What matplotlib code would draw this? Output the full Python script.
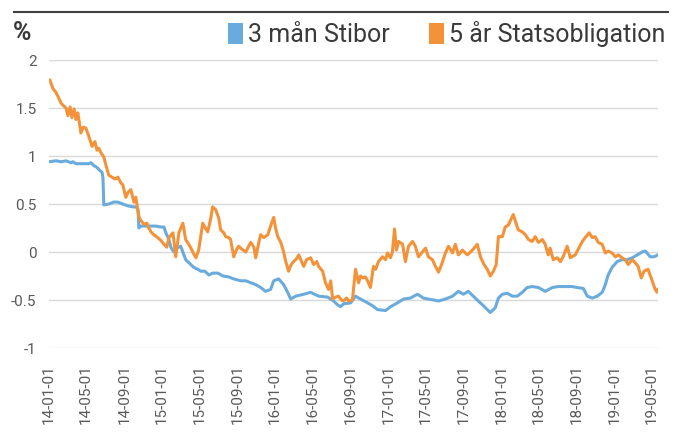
import matplotlib
matplotlib.use("Agg")
import matplotlib.pyplot as plt
import matplotlib.dates as mdates
from matplotlib.patches import Patch
from matplotlib.lines import Line2D
import pandas as pd

stibor_dates = [
    "2014-01-01", "2014-01-24", "2014-02-09", "2014-02-25", "2014-03-13", "2014-03-19", "2014-03-29",
    "2014-04-14", "2014-04-30", "2014-05-10", "2014-05-16", "2014-05-26", "2014-06-05", "2014-06-14",
    "2014-06-21", "2014-06-24", "2014-06-27", "2014-07-13", "2014-07-29", "2014-08-11", "2014-08-27",
    "2014-09-13", "2014-09-29", "2014-10-08", "2014-10-15", "2014-10-18", "2014-10-24", "2014-11-10",
    "2014-11-26", "2014-12-12", "2014-12-28", "2015-01-07", "2015-01-13", "2015-01-23", "2015-01-29",
    "2015-02-08", "2015-02-17", "2015-03-02", "2015-03-09", "2015-03-18", "2015-03-31", "2015-04-13",
    "2015-04-26", "2015-05-06", "2015-05-19", "2015-06-01", "2015-06-13", "2015-06-30", "2015-07-16",
    "2015-08-04", "2015-08-20", "2015-09-12", "2015-09-28", "2015-10-14", "2015-10-30", "2015-11-15",
    "2015-12-01", "2015-12-17", "2015-12-27", "2016-01-12", "2016-01-28", "2016-02-10", "2016-02-20",
    "2016-03-07", "2016-04-02", "2016-04-24", "2016-05-20", "2016-06-18", "2016-07-07", "2016-07-20",
    "2016-07-30", "2016-08-08", "2016-08-31", "2016-09-16", "2016-10-02", "2016-10-25", "2016-11-10",
    "2016-11-26", "2016-12-22", "2017-01-07", "2017-01-29", "2017-02-18", "2017-03-12", "2017-04-04",
    "2017-04-23", "2017-05-25", "2017-06-11", "2017-07-03", "2017-07-26", "2017-08-14", "2017-08-30",
    "2017-09-15", "2017-10-01", "2017-10-17", "2017-11-03", "2017-11-09", "2017-11-25", "2017-12-11",
    "2017-12-21", "2018-01-03", "2018-01-19", "2018-02-04", "2018-02-20", "2018-03-08", "2018-03-24",
    "2018-04-09", "2018-04-29", "2018-05-21", "2018-06-13", "2018-07-02", "2018-07-25", "2018-08-16",
    "2018-09-01", "2018-09-21", "2018-10-04", "2018-10-20", "2018-11-05", "2018-11-21", "2018-12-01",
    "2018-12-10", "2018-12-23", "2019-01-08", "2019-01-24", "2019-02-10", "2019-02-26", "2019-03-14",
    "2019-03-30", "2019-04-09", "2019-04-25", "2019-05-07", "2019-05-20",
]
stibor_values = [
    0.94, 0.95, 0.94, 0.95, 0.93, 0.94, 0.92,
    0.92, 0.92, 0.92, 0.93, 0.90, 0.88, 0.85,
    0.83, 0.78, 0.49, 0.50, 0.52, 0.52, 0.50,
    0.48, 0.47, 0.47, 0.45, 0.25, 0.27, 0.27,
    0.27, 0.27, 0.26, 0.26, 0.20, 0.13, 0.05,
    0.00, 0.04, 0.06, 0.00, -0.08, -0.12, -0.16,
    -0.18, -0.20, -0.20, -0.24, -0.22, -0.22, -0.25,
    -0.26, -0.28, -0.30, -0.30, -0.32, -0.34, -0.37,
    -0.41, -0.39, -0.30, -0.28, -0.34, -0.42, -0.49,
    -0.46, -0.44, -0.42, -0.46, -0.47, -0.51, -0.55,
    -0.57, -0.54, -0.53, -0.46, -0.49, -0.53, -0.56,
    -0.60, -0.61, -0.57, -0.53, -0.49, -0.48, -0.44,
    -0.48, -0.50, -0.51, -0.49, -0.46, -0.41, -0.44,
    -0.41, -0.46, -0.51, -0.56, -0.58, -0.63, -0.58,
    -0.48, -0.44, -0.43, -0.46, -0.46, -0.42, -0.37,
    -0.36, -0.37, -0.41, -0.37, -0.36, -0.36, -0.36,
    -0.37, -0.38, -0.46, -0.48, -0.46, -0.42, -0.34,
    -0.24, -0.16, -0.10, -0.08, -0.08, -0.06, -0.03,
    0.00, 0.01, -0.05, -0.05, -0.03,
]

bond_dates = [
    "2014-01-04", "2014-01-14", "2014-01-24", "2014-02-02", "2014-02-09", "2014-02-18", "2014-02-25",
    "2014-03-03", "2014-03-10", "2014-03-16", "2014-03-23", "2014-03-29", "2014-04-04", "2014-04-14",
    "2014-04-21", "2014-04-30", "2014-05-10", "2014-05-20", "2014-05-29", "2014-06-05", "2014-06-11",
    "2014-06-18", "2014-06-27", "2014-07-04", "2014-07-13", "2014-07-23", "2014-08-02", "2014-08-11",
    "2014-08-21", "2014-08-27", "2014-09-06", "2014-09-13", "2014-09-22", "2014-10-02", "2014-10-08",
    "2014-10-18", "2014-10-24", "2014-11-03", "2014-11-13", "2014-11-19", "2014-11-26", "2014-12-05",
    "2014-12-18", "2014-12-28", "2015-01-07", "2015-01-16", "2015-01-23", "2015-02-05", "2015-02-14",
    "2015-02-24", "2015-03-09", "2015-03-18", "2015-03-28", "2015-04-04", "2015-04-13", "2015-04-20",
    "2015-04-29", "2015-05-12", "2015-05-22", "2015-05-28", "2015-06-07", "2015-06-13", "2015-06-23",
    "2015-07-03", "2015-07-09", "2015-07-19", "2015-07-25", "2015-08-04", "2015-08-10", "2015-08-20",
    "2015-08-30", "2015-09-05", "2015-09-15", "2015-09-28", "2015-10-07", "2015-10-14", "2015-10-24",
    "2015-10-30", "2015-11-09", "2015-11-15", "2015-11-25", "2015-12-08", "2015-12-17", "2015-12-27",
    "2016-01-02", "2016-01-09", "2016-01-19", "2016-01-28", "2016-02-04", "2016-02-13", "2016-02-20",
    "2016-02-29", "2016-03-10", "2016-03-17", "2016-03-26", "2016-04-02", "2016-04-11", "2016-04-24",
    "2016-05-04", "2016-05-14", "2016-05-20", "2016-06-02", "2016-06-11", "2016-06-21", "2016-06-28",
    "2016-07-04", "2016-07-14", "2016-07-23", "2016-08-02", "2016-08-08", "2016-08-18", "2016-08-25",
    "2016-09-06", "2016-09-16", "2016-09-26", "2016-10-02", "2016-10-09", "2016-10-18", "2016-10-25",
    "2016-11-03", "2016-11-13", "2016-11-20", "2016-11-29", "2016-12-12", "2016-12-22", "2016-12-28",
    "2017-01-07", "2017-01-13", "2017-01-20", "2017-01-26", "2017-02-02", "2017-02-15", "2017-02-24",
    "2017-03-06", "2017-03-19", "2017-03-28", "2017-04-07", "2017-04-20", "2017-04-30", "2017-05-09",
    "2017-05-22", "2017-06-01", "2017-06-11", "2017-06-23", "2017-07-03", "2017-07-13", "2017-07-26",
    "2017-08-04", "2017-08-14", "2017-08-27", "2017-09-12", "2017-09-28", "2017-10-14", "2017-10-24",
    "2017-11-03", "2017-11-15", "2017-11-25", "2017-12-05", "2017-12-14", "2017-12-21", "2018-01-03",
    "2018-01-12", "2018-01-22", "2018-02-04", "2018-02-07", "2018-02-14", "2018-02-23", "2018-03-08",
    "2018-03-18", "2018-03-28", "2018-04-09", "2018-04-19", "2018-04-29", "2018-05-12", "2018-05-21",
    "2018-05-31", "2018-06-06", "2018-06-16", "2018-06-29", "2018-07-09", "2018-07-18", "2018-07-31",
    "2018-08-10", "2018-08-26", "2018-09-05", "2018-09-18", "2018-09-27", "2018-10-10", "2018-10-20",
    "2018-10-29", "2018-11-08", "2018-11-21", "2018-12-01", "2018-12-10", "2018-12-23", "2019-01-02",
    "2019-01-12", "2019-01-24", "2019-02-03", "2019-02-13", "2019-02-26", "2019-03-07", "2019-03-17",
    "2019-03-27", "2019-04-05", "2019-04-18", "2019-05-01", "2019-05-11", "2019-05-17", "2019-05-20",
]
bond_values = [
    1.79, 1.70, 1.66, 1.60, 1.55, 1.52, 1.50,
    1.42, 1.51, 1.40, 1.49, 1.38, 1.45, 1.24,
    1.30, 1.29, 1.20, 1.10, 1.15, 1.06, 1.08,
    1.03, 0.99, 0.90, 0.80, 0.78, 0.76, 0.78,
    0.72, 0.70, 0.57, 0.62, 0.65, 0.52, 0.57,
    0.37, 0.33, 0.29, 0.30, 0.25, 0.21, 0.18,
    0.15, 0.12, 0.08, 0.05, 0.15, 0.20, -0.05,
    0.20, 0.30, 0.13, 0.08, 0.04, -0.02, -0.06,
    0.02, 0.30, 0.24, 0.21, 0.35, 0.47, 0.44,
    0.35, 0.23, 0.20, 0.16, 0.15, 0.13, -0.05,
    0.03, 0.06, 0.03, 0.00, 0.06, 0.10, 0.05,
    -0.06, 0.10, 0.18, 0.15, 0.18, 0.27, 0.36,
    0.25, 0.16, 0.10, 0.00, -0.10, -0.20, -0.14,
    -0.10, -0.07, -0.03, -0.10, -0.15, -0.08, -0.06,
    -0.13, -0.10, -0.15, -0.20, -0.32, -0.39, -0.30,
    -0.49, -0.47, -0.46, -0.50, -0.51, -0.48, -0.51,
    -0.50, -0.18, -0.32, -0.25, -0.27, -0.26, -0.30,
    -0.37, -0.15, -0.18, -0.10, -0.05, -0.08, -0.01,
    -0.06, 0.00, 0.24, 0.02, 0.11, 0.08, -0.10,
    0.06, 0.11, 0.06, -0.05, 0.00, 0.04, -0.05,
    -0.08, -0.15, -0.21, -0.11, -0.01, 0.06, -0.01,
    0.08, -0.03, 0.02, -0.03, 0.02, 0.08, -0.05,
    -0.12, -0.18, -0.25, -0.20, -0.13, 0.16, 0.16,
    0.26, 0.28, 0.37, 0.39, 0.32, 0.23, 0.21,
    0.18, 0.13, 0.11, 0.16, 0.10, 0.13, 0.08,
    -0.03, 0.04, -0.08, -0.06, -0.10, -0.05, 0.06,
    -0.06, -0.03, 0.03, 0.11, 0.15, 0.20, 0.15,
    0.16, 0.10, 0.08, -0.01, 0.01, -0.01, -0.05,
    -0.03, -0.06, -0.08, -0.13, -0.08, -0.11, -0.15,
    -0.27, -0.20, -0.18, -0.30, -0.39, -0.42, -0.39,
]

series_names = ["3 mån Stibor", "5 år Statsobligation"]
series_colors = ["#6aabdd", "#f39238"]
y_ticks = [-1, -0.5, 0, 0.5, 1, 1.5, 2]
y_tick_labels = ["-1", "-0.5", "0", "0.5", "1", "1.5", "2"]

plt.rcParams["font.family"] = ["Roboto", "DejaVu Sans"]

fig = plt.figure(figsize=(6.78, 4.33), dpi=100)
ax = fig.add_axes([49 / 678, 1 - 348 / 433, (658 - 49) / 678, (348 - 60) / 433])

sd = pd.to_datetime(stibor_dates)
bd = pd.to_datetime(bond_dates)
ax.plot(sd, stibor_values, color=series_colors[0], lw=2.2, solid_joinstyle="round", zorder=3)
ax.plot(bd, bond_values, color=series_colors[1], lw=2.2, solid_joinstyle="round", zorder=4)

ax.set_ylim(-1, 2)
ax.set_xlim(pd.Timestamp("2014-01-01"), pd.Timestamp("2019-05-20"))
ax.set_yticks(y_ticks)
ax.set_yticklabels(y_tick_labels)
ax.yaxis.grid(True, color="#d9d9d9", lw=1.0)
ax.set_axisbelow(True)
for s in ax.spines.values():
    s.set_visible(False)
ax.tick_params(axis="y", length=0, pad=9, labelsize=11, labelcolor="#595959")
ax.xaxis.set_major_locator(mdates.MonthLocator(bymonth=[1, 5, 9]))
ax.xaxis.set_major_formatter(mdates.DateFormatter("%y-%m-%d"))
ax.tick_params(axis="x", length=0, pad=12, labelsize=11, labelcolor="#595959", labelrotation=90)
for lbl in ax.get_xticklabels():
    lbl.set_horizontalalignment("center")

# header rule
fig.add_artist(Line2D([14 / 678, 668 / 678], [1 - 12 / 433, 1 - 12 / 433],
                      color="#404040", lw=1.5, transform=fig.transFigure))
fig.text(13 / 678, 1 - 33 / 433, "%", fontsize=18, fontweight="bold", color="#3a3a3a",
         va="center", ha="left")

handles = [Patch(facecolor=c, edgecolor="none") for c in series_colors]
fig.legend(handles, series_names, loc="center right", bbox_to_anchor=(665 / 678, 1 - 34 / 433),
           ncol=2, frameon=False, fontsize=18, handlelength=0.6, handleheight=0.9,
           handletextpad=0.2, columnspacing=1.55, borderaxespad=0, borderpad=0,
           labelcolor="#3a3a3a")

fig.savefig("out.png", dpi=100)
